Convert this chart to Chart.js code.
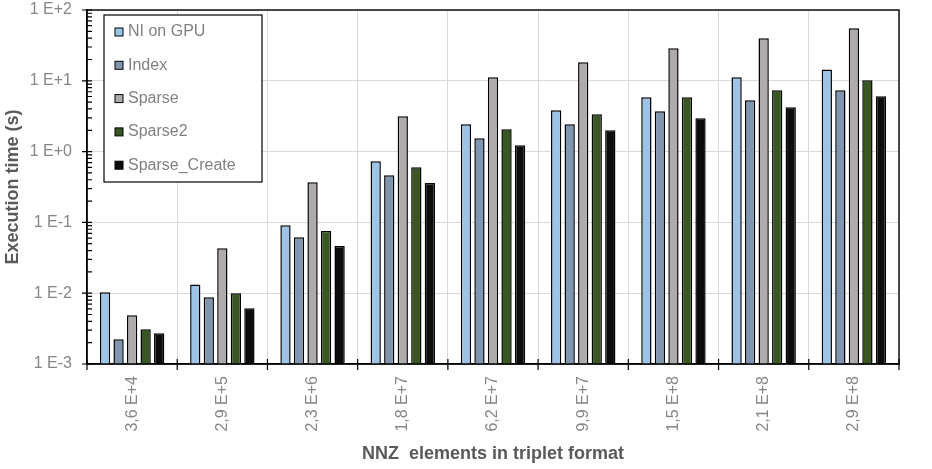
<!DOCTYPE html>
<html>
<head>
<meta charset="utf-8">
<script src="https://cdn.jsdelivr.net/npm/chart.js@4.4.0/dist/chart.umd.min.js"></script>
<style>
  html, body { margin: 0; padding: 0; background: #fff; }
  canvas { display: block; }
</style>
</head>
<body>
<canvas id="myChart" width="932" height="469"></canvas>
<script>
  // 資料
  const categories = ['3,6 E+4', '2,9 E+5', '2,3 E+6', '1,8 E+7', '6,2 E+7', '9,9 E+7', '1,5 E+8', '2,1 E+8', '2,9 E+8'];
  const niOnGpu = [0.0103, 0.0133, 0.091, 0.729, 2.43, 3.83, 5.85, 11.2, 14.5];
  const indexTimes = [0.00223, 0.00875, 0.0616, 0.463, 1.54, 2.43, 3.71, 5.31, 7.34];
  const sparse = [0.00488, 0.043, 0.368, 3.15, 11.2, 18.3, 28.8, 39.8, 55.2];
  const sparse2 = [0.00309, 0.00997, 0.0756, 0.600, 2.07, 3.37, 5.85, 7.34, 10.2];
  const sparseCreate = [0.00272, 0.00612, 0.0464, 0.360, 1.23, 2.0, 2.95, 4.22, 6.04];
  const yTickValues = [0.001, 0.01, 0.1, 1, 10, 100];
  const yTickLabels = ['1 E-3', '1 E-2', '1 E-1', '1 E+0', '1 E+1', '1 E+2'];

  const FONT = '"Liberation Sans", Arial, sans-serif';
  const GRID = '#D9D9D9';
  const TICK_TEXT = '#868686';
  const TITLE_TEXT = '#595959';

  const makeSet = (label, data, color) => ({
    label: label,
    data: data,
    backgroundColor: color,
    borderColor: '#000',
    borderWidth: 1.5,
    categoryPercentage: 0.75,
    barPercentage: 0.76,
  });

  // axis frame, tick marks and boxed legend drawn on top
  const framePlugin = {
    id: 'frame',
    afterDatasetsDraw(chart) {
      const { ctx, chartArea: a, scales: { x, y } } = chart;
      ctx.save();
      ctx.strokeStyle = '#000';
      ctx.lineWidth = 1.4;
      ctx.strokeRect(a.left, a.top, a.right - a.left, a.bottom - a.top);

      ctx.lineWidth = 1.2;
      ctx.beginPath();
      // y ticks: decades cross the axis, minors inside
      for (let e = -3; e <= 2; e++) {
        const py = y.getPixelForValue(Math.pow(10, e));
        ctx.moveTo(a.left - 5, py);
        ctx.lineTo(a.left + 5, py);
        if (e < 2) {
          for (let m = 2; m <= 9; m++) {
            const my = y.getPixelForValue(m * Math.pow(10, e));
            ctx.moveTo(a.left, my);
            ctx.lineTo(a.left + 5, my);
          }
        }
      }
      // x ticks at category boundaries
      const step = (a.right - a.left) / categories.length;
      for (let i = 0; i <= categories.length; i++) {
        const px = a.left + step * i;
        ctx.moveTo(px, a.bottom - 5);
        ctx.lineTo(px, a.bottom + 6);
      }
      ctx.stroke();
      ctx.restore();
    },
    afterDraw(chart) {
      const { ctx, chartArea: a } = chart;
      const lx = a.left + 17, ly = a.top + 5, lw = 158, lh = 167;
      ctx.save();
      ctx.fillStyle = '#fff';
      ctx.fillRect(lx, ly, lw, lh);
      ctx.strokeStyle = '#000';
      ctx.lineWidth = 1.2;
      ctx.strokeRect(lx, ly, lw, lh);
      ctx.font = '16px ' + FONT;
      ctx.textBaseline = 'middle';
      chart.data.datasets.forEach((ds, i) => {
        const cy = ly + 17 + i * 33.3;
        ctx.fillStyle = ds.backgroundColor;
        ctx.fillRect(lx + 11, cy - 4, 8, 8);
        ctx.strokeStyle = '#000';
        ctx.lineWidth = 1;
        ctx.strokeRect(lx + 11, cy - 4, 8, 8);
        ctx.fillStyle = '#808080';
        ctx.fillText(ds.label, lx + 24, cy);
      });
      ctx.restore();
    }
  };

  const config = {
    type: 'bar',
    plugins: [framePlugin],
    data: {
      labels: categories,
      datasets: [
        makeSet('NI on GPU', niOnGpu, '#9DC3E6'),
        makeSet('Index', indexTimes, '#8096B0'),
        makeSet('Sparse', sparse, '#AFABAB'),
        makeSet('Sparse2', sparse2, '#385723'),
        makeSet('Sparse_Create', sparseCreate, '#0D0D0D'),
      ],
    },
    options: {
      responsive: false,
      animation: false,
      layout: { padding: { top: 10, right: 33, left: 0, bottom: 0 } },
      plugins: {
        legend: { display: false },
        tooltip: { enabled: false },
      },
      scales: {
        x: {
          grid: { color: GRID, lineWidth: 1, drawTicks: false, offset: true },
          border: { color: '#000', width: 1.4 },
          ticks: {
            autoSkip: false,
            minRotation: 90,
            maxRotation: 90,
            padding: 12,
            color: TICK_TEXT,
            font: { family: FONT, size: 16 },
          },
          title: {
            display: true,
            text: 'NNZ  elements in triplet format',
            color: TITLE_TEXT,
            font: { family: FONT, size: 18, weight: 'bold' },
            padding: { top: 4, bottom: 4 },
          },
          afterFit: (scale) => {
            scale.height = 105;
            scale.paddingLeft = 0;
            scale.paddingRight = 0;
          },
        },
        y: {
          type: 'logarithmic',
          min: 0.001,
          max: 100,
          grid: { color: GRID, lineWidth: 1, drawTicks: false },
          border: { color: '#000', width: 1.4 },
          afterBuildTicks: (scale) => {
            scale.ticks = yTickValues.map(v => ({ value: v }));
          },
          ticks: {
            padding: 15,
            color: TICK_TEXT,
            font: { family: FONT, size: 16 },
            callback: (value) => yTickLabels[yTickValues.indexOf(value)] ?? '',
          },
          title: {
            display: true,
            text: 'Execution time (s)',
            color: TITLE_TEXT,
            font: { family: FONT, size: 18, weight: 'bold' },
            padding: { top: 2, bottom: 4 },
          },
          afterFit: (scale) => {
            scale.width = 87;
            scale.paddingTop = 0;
            scale.paddingBottom = 0;
          },
        },
      },
    },
  };

  new Chart(document.getElementById('myChart'), config);
</script>
</body>
</html>
